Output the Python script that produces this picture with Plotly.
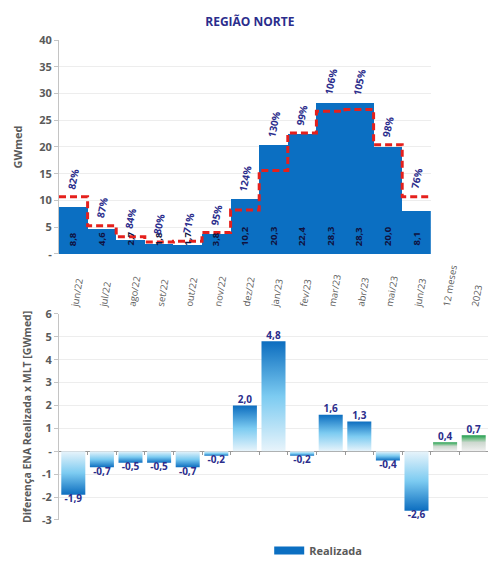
import plotly.graph_objects as go

# ---- data -------------------------------------------------------------
months = ["jun/22", "jul/22", "ago/22", "set/22", "out/22", "nov/22", "dez/22",
          "jan/23", "fev/23", "mar/23", "abr/23", "mai/23", "jun/23"]
summary_labels = ["12 meses", "2023"]

realizada = [8.8, 4.6, 2.7, 1.8, 1.7, 3.8, 10.2, 20.3, 22.4, 28.3, 28.3, 20.0, 8.1]
mlt = [10.7, 5.3, 3.2, 2.25, 2.4, 4.0, 8.2, 15.6, 22.6, 26.7, 27.0, 20.4, 10.7]
pct_mlt = [82, 87, 84, 80, 71, 95, 124, 130, 99, 106, 105, 98, 76]

diferenca = [-1.9, -0.7, -0.5, -0.5, -0.7, -0.2, 2.0, 4.8, -0.2, 1.6, 1.3, -0.4, -2.6,
             0.4, 0.7]

top_ticks = [0, 5, 10, 15, 20, 25, 30, 35, 40]
bottom_ticks = [-3, -2, -1, 0, 1, 2, 3, 4, 5, 6]

# ---- styling ------------------------------------------------------------
NAVY = "#2b2d8c"
DARK_NAVY = "#10123f"
BLUE = "#0b6fc2"
RED = "#e5201c"
GREY = "#5a5a5a"
FONT = "Open Sans"

BLUE_UP = [[0, "#e8f4fb"], [0.5, "#7ccbf1"], [1, "#0c6dbf"]]
BLUE_DOWN = [[0, "#0c6dbf"], [0.5, "#7ccbf1"], [1, "#e8f4fb"]]
GREEN_UP = [[0, "#f1f1f1"], [0.55, "#cdd8cf"], [0.8, "#6dbd83"], [1, "#1e9b4c"]]


def fmt(v):
    return f"{v:.1f}".replace(".", ",")


categories = months + summary_labels
n_top = len(months)
n_all = len(categories)

fig = go.Figure()

# ---- top panel: monthly ENA vs MLT --------------------------------------
fig.add_trace(go.Bar(
    x=list(range(n_top)), y=realizada,
    marker=dict(color=BLUE, line=dict(width=0)),
    showlegend=False, xaxis="x", yaxis="y",
))

# value written upward from the base of each bar
for i, v in enumerate(realizada):
    fig.add_annotation(
        x=i, y=0, xref="x", yref="y",
        text=f"<b>{fmt(v)}</b>", showarrow=False, textangle=-90,
        xanchor="center", yanchor="bottom", yshift=6,
        font=dict(size=9.5, color=DARK_NAVY, family=FONT),
    )

# MLT as a step line spanning each month's full width
edges = [i - 0.5 for i in range(n_top)] + [n_top - 0.5]
fig.add_trace(go.Scatter(
    x=edges, y=mlt + [mlt[-1]],
    mode="lines", line=dict(color=RED, width=3, dash="7px,4px", shape="hv"),
    showlegend=False, xaxis="x", yaxis="y",
))

# % of MLT labels above each month
for i, p in enumerate(pct_mlt):
    fig.add_annotation(
        x=i, y=max(realizada[i], mlt[i]), xref="x", yref="y",
        text=f"<b>{p}%</b>", showarrow=False, textangle=-78,
        xanchor="center", yanchor="bottom", yshift=4,
        font=dict(size=10, color=NAVY, family=FONT),
    )

# ---- bottom panel: difference realised x MLT -----------------------------
half_w = 0.42
for i, v in enumerate(diferenca):
    if i >= n_top:
        scale = GREEN_UP
    else:
        scale = BLUE_UP if v >= 0 else BLUE_DOWN
    fig.add_trace(go.Scatter(
        x=[i - half_w, i + half_w, i + half_w, i - half_w, i - half_w],
        y=[0, 0, v, v, 0],
        mode="lines", line=dict(width=0), fill="toself",
        fillgradient=dict(type="vertical", colorscale=scale),
        hoverinfo="skip", showlegend=False, xaxis="x2", yaxis="y2",
    ))

fig.add_trace(go.Scatter(
    x=list(range(n_all)), y=diferenca,
    mode="text", text=[f"<b>{fmt(v)}</b>" for v in diferenca],
    textposition=["top center" if v >= 0 else "bottom center" for v in diferenca],
    textfont=dict(size=10, color=NAVY, family=FONT),
    showlegend=False, xaxis="x2", yaxis="y2",
))

# tick marks along the zero line between categories
fig.add_trace(go.Scatter(
    x=[None], y=[None], mode="markers", showlegend=False,
    hoverinfo="skip", xaxis="x3", yaxis="y2",
))

# legend entry
fig.add_trace(go.Scatter(
    x=[None], y=[None], mode="lines", name="Realizada",
    line=dict(color=BLUE, width=8), xaxis="x", yaxis="y",
))

# ---- layout -------------------------------------------------------------
ML, MR, MT, MB = 59, 0, 40, 36
H = 565
plot_h = H - MT - MB
top_dom = [(H - MB - 258) / plot_h, 1.0]
bot_dom = [0.0, (H - MB - 319) / plot_h]
bottom_range = [-3, 6]
zero_pos = bot_dom[0] + (0 - bottom_range[0]) / (bottom_range[1] - bottom_range[0]) * (bot_dom[1] - bot_dom[0])

fig.update_layout(
    width=488, height=H,
    margin=dict(l=ML, r=MR, t=MT, b=MB),
    paper_bgcolor="white", plot_bgcolor="white",
    font=dict(family=FONT, color=GREY),
    bargap=0,
    title=dict(text="<b>REGIÃO NORTE</b>", x=0.512, xanchor="center",
               y=1 - 22 / H, yanchor="middle",
               font=dict(size=12, color=NAVY, family=FONT)),
    xaxis=dict(domain=[0, n_top / n_all], range=[-0.5, n_top - 0.5],
               anchor="y", showticklabels=False, showgrid=False,
               zeroline=False, showline=False),
    yaxis=dict(domain=top_dom, range=[0, 40], anchor="x",
               tickvals=top_ticks,
               ticktext=["-" if t == 0 else str(t) for t in top_ticks],
               tickfont=dict(size=11, color=GREY, family=FONT, weight="bold"),
               showgrid=True, gridcolor="#ededed", zeroline=False,
               showline=True, linecolor="#c4c4c4", ticks="outside",
               ticklen=4, tickcolor="#c4c4c4",
               title=dict(text="<b>GWmed</b>", standoff=14,
                          font=dict(size=11, color=GREY, family=FONT))),
    xaxis2=dict(domain=[0, 1], range=[-0.5, n_all - 0.5], anchor="y2",
                side="top", tickvals=list(range(n_all)), ticktext=categories,
                tickangle=-80, tickfont=dict(size=9.5, color=GREY, family=FONT),
                showgrid=False, zeroline=False, showline=False, ticks=""),
    xaxis3=dict(overlaying="x2", range=[-0.5, n_all - 0.5], anchor="free",
                position=zero_pos, tickvals=[i + 0.5 for i in range(n_all - 1)],
                ticks="outside", ticklen=3, tickcolor="#999999",
                showticklabels=False, showgrid=False, zeroline=False,
                showline=False),
    yaxis2=dict(domain=bot_dom, range=bottom_range, anchor="x2",
                tickvals=bottom_ticks,
                ticktext=["-" if t == 0 else str(t) for t in bottom_ticks],
                tickfont=dict(size=11, color=GREY, family=FONT, weight="bold"),
                showgrid=True, gridcolor="#ededed",
                zeroline=True, zerolinecolor="#9a9a9a", zerolinewidth=1,
                showline=True, linecolor="#c4c4c4", ticks="outside",
                ticklen=4, tickcolor="#c4c4c4",
                title=dict(text="<b>Diferença ENA Realizada x MLT [GWmed]</b>",
                           standoff=8,
                           font=dict(size=10.5, color=GREY, family=FONT))),
    legend=dict(orientation="h", x=0.49, xanchor="left",
                y=-(560 - (H - MB)) / plot_h, yanchor="middle",
                font=dict(size=11, color=GREY, family=FONT, weight="bold"),
                bgcolor="rgba(0,0,0,0)"),
)

fig.write_html("out.html")
